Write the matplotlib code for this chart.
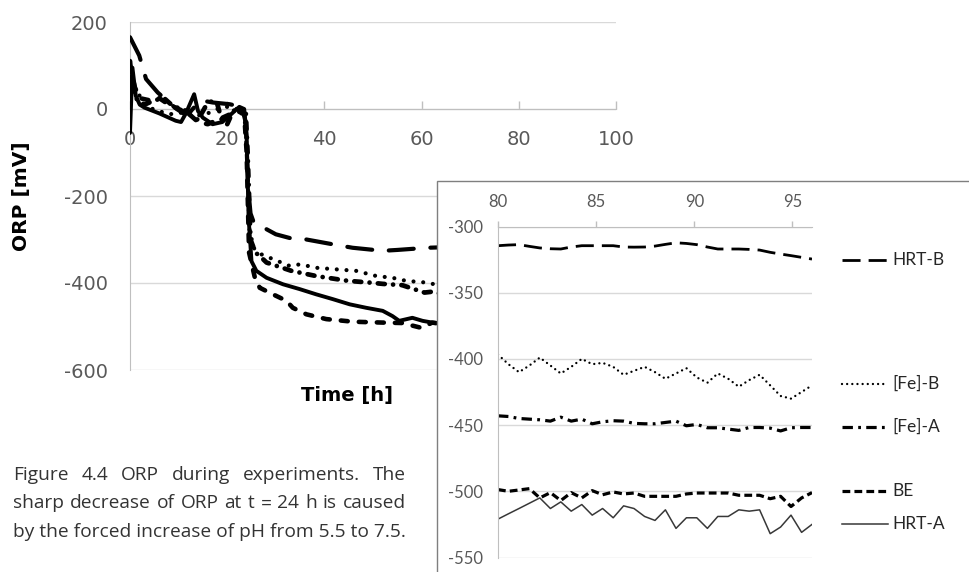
import matplotlib
matplotlib.use("Agg")
import matplotlib.pyplot as plt
from matplotlib.lines import Line2D
from matplotlib.patches import Rectangle

plt.rcParams['lines.scale_dashes'] = False
plt.rcParams['axes.unicode_minus'] = False

# ---------------- data (main chart, 0-64 h) ----------------
t_hrtb = [0, 1.9, 3.3, 5.7, 7.5, 9.6, 11, 12.5, 14.5, 17, 20.5, 23, 23.8, 24.3, 24.8,
          25.5, 26.5, 27.7, 30, 33, 36.3, 41.7, 45.8, 52, 55, 61.2, 64]
v_hrtb = [165, 123, 69, 38, 20, 0, -10, -5, 20, 15, 11, 5, -30, -180, -240,
          -262, -270, -274, -288, -297, -300, -311, -319, -326, -324, -319, -318]

t_feb = [0, 1, 1.6, 3, 4.7, 6, 8.1, 10, 12, 14, 16, 18, 20, 22, 23.5, 24.0, 24.6,
         25.5, 27, 29.4, 32.9, 35, 38.3, 41.7, 46.5, 50.7, 54, 56.8, 61, 62.2, 64]
v_feb = [70, 50, 38, 10, 0, -5, -12, -10, -5, -15, -10, 0, 5, 0, -5, -90, -280,
         -320, -334, -345, -361, -357, -365, -368, -372, -384, -388, -395, -399, -402, -404]

t_fea = [0, 0.5, 1.5, 3, 5, 7, 9, 11, 12.5, 14, 15.5, 17, 18, 19, 20, 21, 22, 23,
         23.8, 24.2, 24.8, 25.8, 26.7, 28.1, 33.2, 38.3, 44.8, 49.3, 52, 56, 60.6, 62.2, 64]
v_fea = [110, 45, 20, 10, 20, 25, 5, 0, -15, -25, 5, 20, 10, -30, -35, -10, 5, -10,
         0, -100, -300, -330, -338, -353, -372, -384, -395, -399, -402, -405, -422, -420, -425]

t_be = [0, 1, 2, 4, 6, 8, 10, 12, 14, 16, 18, 20, 22, 23.5, 24.0, 24.5, 25.7, 26.7,
        29.4, 32.2, 33.5, 36.3, 40.4, 45.9, 52, 56, 59.9, 62.2, 64]
v_be = [100, 50, 25, 20, 25, 10, 0, -10, -30, -35, -25, -15, -5, -10, -100, -330, -388, -411,
        -426, -441, -457, -472, -483, -489, -491, -492, -503, -491, -494]

t_hrta = [0, 0.5, 1.2, 2, 3, 6, 9.4, 10.5, 11.5, 13.2, 14, 15, 17, 19, 21, 22.5, 23.5,
          24.0, 24.4, 25, 26, 28.1, 31.5, 34.9, 38.3, 41.7, 45.2, 48.6, 52, 54, 55.4,
          58.1, 60.2, 62.2, 64]
v_hrta = [-55, 95, 30, 10, 3, -10, -27, -30, -10, 34, -5, -20, -35, -30, -10, 5, 0,
          -60, -250, -350, -372, -388, -403, -414, -426, -437, -449, -457, -464, -476, -487,
          -480, -487, -491, -493]

# ---------------- data (inset, 80-96 h) ----------------
t_inset = [80.0, 80.53, 81.07, 81.6, 82.13, 82.67, 83.2, 83.73, 84.27, 84.8, 85.33,
           85.87, 86.4, 86.93, 87.47, 88.0, 88.53, 89.07, 89.6, 90.13, 90.67, 91.2,
           91.73, 92.27, 92.8, 93.33, 93.87, 94.4, 94.93, 95.47, 96.0]
hrtb_in = [-314.5, -314, -313.7, -315, -316.2, -316.8, -317, -315.5, -314.5, -314.5, -314.5,
           -314.5, -315.5, -315.6, -315.5, -314.8, -313.5, -312.3, -312.8, -313.7, -315.5,
           -317, -317, -317, -317.3, -317.8, -319.5, -320.8, -322, -323.3, -324.6]
feb_in = [-396.7, -404, -410, -405, -399, -405, -411, -406, -400, -404, -403, -406, -412,
          -409, -406, -410, -415, -411, -407, -414, -418, -411, -415, -421, -416, -412,
          -420, -428, -430, -425, -420]
fea_in = [-443, -443.5, -445, -445.5, -446, -447, -444, -447, -445.5, -449, -447.5, -446.7,
          -447, -448.7, -449, -449, -448, -447, -450.5, -449.5, -452, -452, -453, -454,
          -451.8, -451.8, -452.3, -454.4, -452, -451.8, -451.8]
be_in = [-498.7, -500, -499, -498, -505, -501, -507, -501, -505, -499.5, -502.6, -500.5,
         -502, -501.3, -503.8, -503.8, -503.8, -503.8, -502, -501.3, -501.3, -501.3, -501.3,
         -503, -503, -503, -505.6, -503.8, -511.5, -505, -501]
hrta_in = [-521, -517, -513, -509, -505, -513, -508, -515, -510, -518, -513, -520, -511,
           -513, -519, -522, -514, -528, -520, -520, -528, -519, -519, -514, -515, -514,
           -532, -527, -518, -531, -525]

series_names = ["HRT-B", "[Fe]-B", "[Fe]-A", "BE", "HRT-A"]
main_x_ticks = [0, 20, 40, 60, 80, 100]
main_y_ticks = [-600, -400, -200, 0, 200]
inset_x_ticks = [80, 85, 90, 95]
inset_y_ticks = [-550, -500, -450, -400, -350, -300]

# ---------------- figure ----------------
W, H = 970, 572
fig = plt.figure(figsize=(W / 100, H / 100), dpi=100)
fig.patch.set_facecolor("white")

def fx(px):
    return px / W

def fy(py):
    return 1 - py / H

GRID = "#d9d9d9"
SPINE = "#bfbfbf"
TICKC = "#595959"

# main axes
ax = fig.add_axes([fx(130), fy(370), fx(616) - fx(130), fy(22) - fy(370)])
ax.set_zorder(1)
ax.set_xlim(0, 100)
ax.set_ylim(-600, 200)
ax.set_xticks(main_x_ticks)
ax.set_yticks(main_y_ticks)
for s in ["top", "right"]:
    ax.spines[s].set_visible(False)
ax.spines["bottom"].set_position(("data", 0))
ax.spines["bottom"].set_color(SPINE)
ax.spines["left"].set_color(SPINE)
ax.yaxis.grid(True, color=GRID, linewidth=1.0)
ax.set_axisbelow(True)
ax.tick_params(axis="x", direction="in", length=6, width=1, color=SPINE,
               labelsize=14, labelcolor=TICKC, pad=15)
ax.tick_params(axis="y", length=0, labelsize=14, labelcolor=TICKC, pad=16)
for lab in ax.get_xticklabels() + ax.get_yticklabels():
    lab.set_family("DejaVu Sans")

main_style = dict(color="black", solid_capstyle="round", dash_capstyle="round",
                  solid_joinstyle="round", zorder=3)
ax.plot(t_hrtb + t_inset, v_hrtb + hrtb_in, lw=3.0, dashes=(18, 12), **main_style)
ax.plot(t_feb + t_inset, v_feb + feb_in, lw=3.0, dashes=(0.01, 7), **main_style)
ax.plot(t_fea + t_inset, v_fea + fea_in, lw=3.4, dashes=(5, 6, 0.01, 6), **main_style)
ax.plot(t_be + t_inset, v_be + be_in, lw=3.3, dashes=(5, 8), **main_style)
ax.plot(t_hrta + t_inset, v_hrta + hrta_in, lw=2.8, **main_style)

fig.text(fx(22), fy(196), "ORP [mV]", rotation=90, ha="center", va="center",
         fontsize=14.5, fontweight="bold", family="DejaVu Sans", color="black")
fig.text(fx(347), fy(396), "Time [h]", ha="center", va="center",
         fontsize=14, fontweight="bold", family="DejaVu Sans", color="black")

# inset frame
box = Rectangle((fx(437), fy(600)), fx(1000) - fx(437), fy(181) - fy(600),
                transform=fig.transFigure, facecolor="white", edgecolor="#7f7f7f",
                linewidth=1.0, zorder=2)
fig.add_artist(box)

ins = fig.add_axes([fx(498), fy(557.5), fx(812) - fx(498), fy(226.5) - fy(557.5)])
ins.set_zorder(3)
ins.patch.set_alpha(0)
ins.set_xlim(80, 96)
ins.set_ylim(-550, -300)
ins.set_xticks(inset_x_ticks)
ins.set_yticks(inset_y_ticks)
ins.xaxis.tick_top()
for s in ["bottom", "right"]:
    ins.spines[s].set_visible(False)
ins.spines["top"].set_color(SPINE)
ins.spines["left"].set_color(SPINE)
ins.yaxis.grid(True, color=GRID, linewidth=1.0)
ins.set_axisbelow(True)
ins.tick_params(axis="x", direction="out", length=4, width=1, color=SPINE,
                labelsize=12, labelcolor=TICKC, pad=8)
ins.tick_params(axis="y", length=0, labelsize=12, labelcolor=TICKC, pad=11)
for lab in ins.get_xticklabels() + ins.get_yticklabels():
    lab.set_family("Lato")

inset_styles = [
    dict(lw=2.0, dashes=(13, 5.8), color="black", dash_capstyle="butt"),
    dict(lw=1.7, dashes=(0.01, 3.7), color="black", dash_capstyle="round"),
    dict(lw=2.3, dashes=(7.5, 3.8, 2.0, 3.8), color="black", dash_capstyle="butt"),
    dict(lw=2.3, dashes=(5.6, 3.0), color="black", dash_capstyle="butt"),
    dict(lw=1.1, color="#383838"),
]
inset_data = [hrtb_in, feb_in, fea_in, be_in, hrta_in]
for vals, st in zip(inset_data, inset_styles):
    ins.plot(t_inset, vals, **st)

# labels to the right of the inset
label_y = [260, 384, 427, 491, 524]
for name, st, yy in zip(series_names, inset_styles, label_y):
    ln = Line2D([fx(842), fx(888)], [fy(yy), fy(yy)], transform=fig.transFigure, zorder=4, **st)
    fig.add_artist(ln)
    fig.text(fx(892), fy(yy), name, ha="left", va="center", fontsize=12.5,
             family="Lato", color="#262626", zorder=5)

# caption (justified)
cap_lines = [
    "Figure 4.4 ORP during experiments. The",
    "sharp decrease of ORP at t = 24 h is caused",
    "by the forced increase of pH from 5.5 to 7.5.",
]
cap_base = [480, 508.5, 537]
cap_kw = dict(fontsize=13.8, family="Open Sans", color="#333333", va="baseline", ha="left")
fig.canvas.draw()
renderer = fig.canvas.get_renderer()
x0, x1 = 13, 406
for i, (line, yb) in enumerate(zip(cap_lines, cap_base)):
    if i < 2:
        words = line.split(" ")
        texts = [fig.text(0, fy(yb), w, **cap_kw) for w in words]
        widths = [t.get_window_extent(renderer).width for t in texts]
        gap = ((x1 - x0) - sum(widths)) / (len(words) - 1)
        x = x0
        for t, w in zip(texts, widths):
            t.set_x(fx(x))
            x += w + gap
    else:
        fig.text(fx(x0), fy(yb), line, **cap_kw)

fig.savefig("out.png", dpi=100)
